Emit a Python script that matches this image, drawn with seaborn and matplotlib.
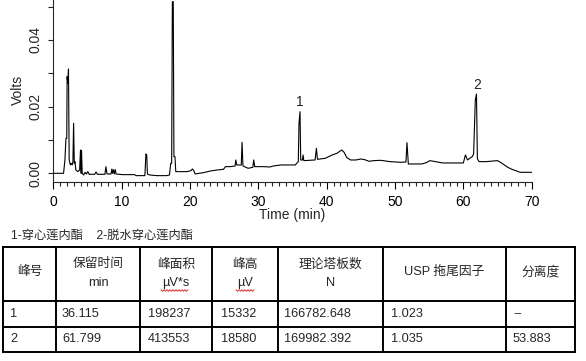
import numpy as np
import pandas as pd
import matplotlib
matplotlib.use("Agg")
import matplotlib.pyplot as plt
import seaborn as sns

# ---------------- data ----------------
time_min = [
    0.0, 1.5, 1.7, 1.85, 1.97, 2.02, 2.12, 2.22, 2.32, 2.5,
    2.62, 2.77, 2.87, 2.97, 3.07, 3.17, 3.3, 3.6, 3.85, 3.98,
    4.08, 4.13, 4.23, 4.45, 4.65, 4.85, 5.05, 5.25, 6.05, 6.25,
    6.45, 7.55, 7.7, 7.85, 8.45, 8.57, 8.67, 8.82, 8.92, 9.07,
    9.17, 10.1, 11.9, 12.1, 13.4, 13.55, 13.67, 13.77, 14.1, 15.1,
    16.6, 17.0, 17.18, 17.32, 17.42, 17.55, 17.65, 17.8, 17.92, 19.6,
    20.15, 20.35, 20.55, 20.75, 22.0, 23.0, 24.0, 24.9, 25.2, 25.9,
    26.6, 26.7, 26.85, 27.5, 27.62, 27.75, 28.5, 29.2, 29.32, 29.47,
    30.7, 31.7, 32.2, 33.3, 35.4, 35.85, 35.95, 36.1, 36.2, 36.45,
    36.55, 36.65, 38.3, 38.5, 38.65, 39.8, 40.3, 40.8, 41.5, 42.2,
    42.55, 42.95, 43.5, 44.3, 45.0, 45.55, 46.2, 46.9, 47.9, 49.3,
    50.8, 51.6, 51.75, 51.95, 53.9, 54.6, 55.1, 55.9, 57.0, 60.0,
    60.3, 60.6, 61.3, 61.5, 61.75, 61.92, 62.05, 62.15, 62.3, 63.3,
    64.5, 65.0, 65.5, 66.0, 66.5, 67.1, 67.8, 68.3, 70.0,
]
volts = [
    0.0, 0.0, 0.004, 0.0105, 0.0105, 0.029, 0.027, 0.0313, 0.004, 0.0025,
    0.003, 0.0025, 0.0035, 0.015, 0.003, 0.0035, 0.001, 0.0005, 0.001, 0.007,
    0.0, 0.0068, 0.0, -0.0005, 0.0003, -0.0002, 0.0005, -0.0003, -0.0003, 0.0004,
    -0.0003, -0.0003, 0.002, -0.0002, -0.0002, 0.0013, 0.0, 0.0011, -0.0002, 0.0011,
    -0.0002, -0.0004, -0.0004, -0.0007, -0.0007, 0.0058, 0.0055, -0.0002, -0.0005, -0.0007,
    -0.0007, -0.0005, 0.003, 0.003, 0.0515, 0.0515, 0.005, 0.005, 0.0005, 0.0005,
    0.0008, 0.0013, 0.0008, -0.0002, 0.0002, 0.0007, 0.001, 0.0012, 0.002, 0.002,
    0.0022, 0.004, 0.0025, 0.0025, 0.0093, 0.0022, 0.0015, 0.0018, 0.004, 0.002,
    0.002, 0.0019, 0.0022, 0.0025, 0.0025, 0.0035, 0.015, 0.0185, 0.004, 0.004,
    0.0055, 0.0038, 0.004, 0.0075, 0.0042, 0.0045, 0.005, 0.0055, 0.006, 0.007,
    0.0063, 0.0047, 0.004, 0.004, 0.0043, 0.0041, 0.0036, 0.0038, 0.0039, 0.0035,
    0.0033, 0.0034, 0.0092, 0.0028, 0.0028, 0.0032, 0.0038, 0.0035, 0.0031, 0.0031,
    0.0055, 0.004, 0.005, 0.0058, 0.022, 0.0238, 0.0045, 0.004, 0.0035, 0.0035,
    0.0037, 0.0038, 0.0032, 0.0025, 0.0018, 0.0012, 0.0007, 0.0003, 0.0003,
]

peak_labels = ["1", "2"]
peak_label_t = [36.1, 62.0]
peak_label_v = [0.0215, 0.0265]

legend_note = "1-穿心莲内酯    2-脱水穿心莲内酯"

header_line1 = ["峰号", "保留时间", "峰面积", "峰高", "理论塔板数", "USP 拖尾因子", "分离度"]
header_line2 = ["", "min", "µV*s", "µV", "N", "", ""]
peak_no = ["1", "2"]
ret_time = ["36.115", "61.799"]
area = ["198237", "413553"]
height = ["15332", "18580"]
plates = ["166782.648", "169982.392"]
tailing = ["1.023", "1.035"]
resolution = ["--", "53.883"]

# ---------------- style ----------------
sns.set_style("ticks")
plt.rcParams["font.family"] = ["Liberation Sans", "Noto Sans CJK SC", "DejaVu Sans"]
plt.rcParams["axes.linewidth"] = 0.8

W, H = 586, 361
fig = plt.figure(figsize=(W / 100, H / 100), dpi=100)

# chart axes (pixel geometry)
x_left, x_right = 53.3, 531.7
y_top, y_bottom = 0.0, 182.3
ax = fig.add_axes([x_left / W, 1 - y_bottom / H, (x_right - x_left) / W, (y_bottom - y_top) / H])
ax.patch.set_alpha(0)

df = pd.DataFrame({"Time": time_min, "Volts": volts})
sns.lineplot(data=df, x="Time", y="Volts", ax=ax, color="black", lw=0.8,
             sort=False, estimator=None)

ax.set_xlim(0, 70)
ax.set_ylim(-0.0027, 0.052)
ax.set_xticks(np.arange(0, 71, 10))
ax.set_xticks(np.arange(0, 71, 1), minor=True)
ax.set_yticks([0.0, 0.02, 0.04])
ax.set_yticks([0.01, 0.03, 0.05], minor=True)
ax.set_yticklabels(["0.00", "0.02", "0.04"], rotation=90, va="center")
for s in ["top", "right"]:
    ax.spines[s].set_visible(False)
ax.tick_params(axis="x", which="major", length=5, width=0.8, pad=4, labelsize=10, colors="black")
ax.tick_params(axis="x", which="minor", length=3, width=0.8)
ax.tick_params(axis="y", which="major", length=3.8, width=0.8, pad=4, labelsize=10)
ax.tick_params(axis="y", which="minor", length=3.3, width=0.8)

ax.set_xlabel("Time (min)", fontsize=10)
ax.set_ylabel("Volts", fontsize=10)
ax.xaxis.set_label_coords(0.5, (y_bottom - 208) / (y_bottom - y_top))
ax.yaxis.set_label_coords((25 - x_left) / (x_right - x_left), 0.506)

for lab, t, v in zip(peak_labels, peak_label_t, peak_label_v):
    ax.text(t, v, lab, ha="center", va="center", fontsize=10)

# ---------------- overlay for note + table (pixel coords) ----------------
ov = fig.add_axes([0, 0, 1, 1])
ov.set_xlim(0, W)
ov.set_ylim(H, 0)
ov.axis("off")
ov.patch.set_alpha(0)

ov.text(11, 236, legend_note, ha="left", va="center", fontsize=8.8)

col_x = [3, 56, 140, 212, 278, 383, 506, 575]
row_y = [247, 301, 327, 352]
lw_tab = 1.4
for yy in row_y:
    ov.plot([col_x[0], col_x[-1]], [yy, yy], color="black", lw=lw_tab, solid_capstyle="projecting")
for xx in col_x:
    ov.plot([xx, xx], [row_y[0], row_y[-1]], color="black", lw=lw_tab, solid_capstyle="projecting")

fs_tab = 9.2
for i in range(7):
    cx = (col_x[i] + col_x[i + 1]) / 2
    if header_line2[i]:
        ov.text(cx, 264.5, header_line1[i], ha="center", va="center", fontsize=fs_tab)
        ov.text(cx, 283, header_line2[i], ha="center", va="center", fontsize=fs_tab)
    else:
        ov.text(cx, 272, header_line1[i], ha="center", va="center", fontsize=fs_tab)

# red wavy spell-check underlines under the µV units
def wavy(x0, x1, y):
    xs = np.arange(x0, x1 + 0.01, 1.5)
    ys = y + np.where(np.arange(len(xs)) % 2 == 0, -0.8, 0.8)
    ov.plot(xs, ys, color="#e03030", lw=0.7)

wavy(161, 189, 290.5)
wavy(236, 254, 290.5)

rows = list(zip(peak_no, ret_time, area, height, plates, tailing, resolution))
row_centers = [314, 339.5]
pad = [7, 6, 8, 9, 6, 8, 7]
for r, yc in zip(rows, row_centers):
    for i, val in enumerate(r):
        ov.text(col_x[i] + pad[i], yc, val, ha="left", va="center", fontsize=fs_tab)

fig.savefig("out.png", dpi=100)
